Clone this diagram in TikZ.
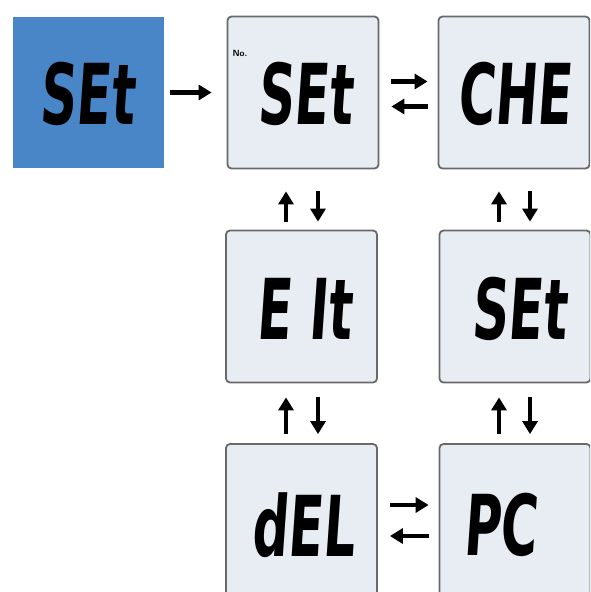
\documentclass[tikz,border=0pt]{standalone}
\usepackage{fontspec}
\newfontfamily\segfont[FakeStretch=0.6,FakeSlant=0.07]{DejaVu Sans}
\usetikzlibrary{arrows.meta,calc}
\definecolor{lcdfill}{RGB}{231,237,243}
\definecolor{lcdedge}{RGB}{105,105,105}
\definecolor{selblue}{RGB}{72,134,200}
\begin{document}
\begin{tikzpicture}[x=1pt,y=-1pt,
  lcd/.style={draw=lcdedge,line width=1.8pt,fill=lcdfill,rounded corners=4pt,
    minimum width=151pt,minimum height=152pt,inner sep=0pt},
  sel/.style={fill=selblue,minimum width=151pt,minimum height=151pt,inner sep=0pt},
  segtxt/.style={font=\segfont\bfseries\fontsize{84}{84}\selectfont,inner sep=0pt},
  arr/.style={line width=4.5pt,-{Triangle[width=15pt,length=13pt]}}]
\clip (0,0) rectangle (590,592);
\fill[white] (0,0) rectangle (590,592);
% boxes
\node[sel] (b0) at (88.5,92.5) {};
\node[lcd] (b1) at (303,92.5) {};
\node[lcd] (b2) at (514,92.5) {};
\node[lcd] (b3) at (301.5,306.5) {};
\node[lcd] (b4) at (515,306.5) {};
\node[lcd] (b5) at (301.5,520) {};
\node[lcd] (b6) at (515,520) {};
% texts
\node[segtxt] (t0) at (87,94) {SEt};
\node[segtxt] (t1) at (305,94) {SEt};
\node[segtxt] (t2) at (514,94) {CHE};
\node[segtxt] (t3) at (304,309) {E It};
\node[segtxt] (t4) at (519,309) {SEt};
\node[segtxt] (t5) at (303,525) {dEL};
\node[segtxt] (t6) at (500,525) {PC};
\node[font=\sffamily\bfseries\fontsize{9}{9}\selectfont,inner sep=0pt] (no) at (240,53) {No.};
% arrows
\draw[arr,shorten <=6pt,shorten >=15pt] (b0.east) -- (b1.west);
\draw[arr,shorten <=12pt,shorten >=10pt] ($(b1.east)+(0,-11)$) -- ($(b2.west)+(0,-11)$);
\draw[arr,shorten <=10pt,shorten >=12pt] ($(b2.west)+(0,14)$) -- ($(b1.east)+(0,14)$);
\draw[arr,shorten <=8pt,shorten >=22pt] ($(b3.north)+(-15.5,0)$) -- ($(b1.south)+(-17,0)$);
\draw[arr,shorten <=22pt,shorten >=8pt] ($(b1.south)+(15,0)$) -- ($(b3.north)+(16.5,0)$);
\draw[arr,shorten <=8pt,shorten >=22pt] ($(b4.north)+(-16,0)$) -- ($(b2.south)+(-15,0)$);
\draw[arr,shorten <=22pt,shorten >=8pt] ($(b2.south)+(16,0)$) -- ($(b4.north)+(15,0)$);
\draw[arr,shorten <=9pt,shorten >=14pt] ($(b5.north)+(-15.5,0)$) -- ($(b3.south)+(-15.5,0)$);
\draw[arr,shorten <=14pt,shorten >=9pt] ($(b3.south)+(16.5,0)$) -- ($(b5.north)+(16.5,0)$);
\draw[arr,shorten <=9pt,shorten >=14pt] ($(b6.north)+(-16,0)$) -- ($(b4.south)+(-16,0)$);
\draw[arr,shorten <=14pt,shorten >=9pt] ($(b4.south)+(15,0)$) -- ($(b6.north)+(15,0)$);
\draw[arr,shorten <=12pt,shorten >=10pt] ($(b5.east)+(0,-15)$) -- ($(b6.west)+(0,-15)$);
\draw[arr,shorten <=10pt,shorten >=12pt] ($(b6.west)+(0,16)$) -- ($(b5.east)+(0,16)$);
\end{tikzpicture}
\end{document}
